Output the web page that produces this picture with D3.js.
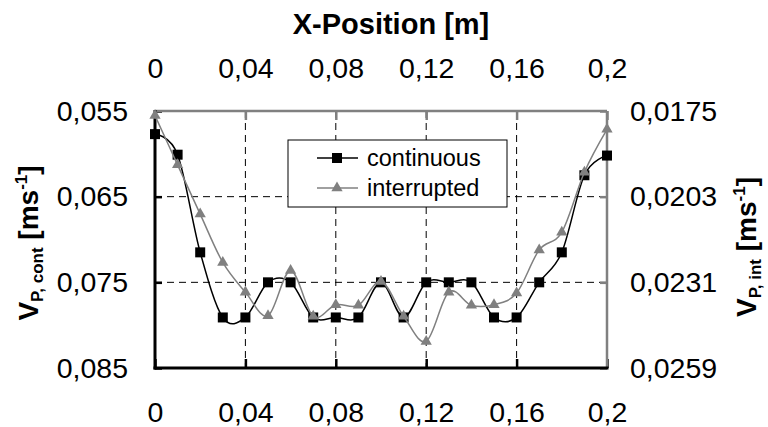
<!DOCTYPE html>
<html>
<head>
<meta charset="utf-8">
<script src="https://cdn.jsdelivr.net/npm/d3@7"></script>
<style>
  body { margin: 0; background: #fff; }
  svg { font-family: "Liberation Sans", Arial, sans-serif; }
</style>
</head>
<body>
<div id="chart"></div>
<script>
// x positions [m]
var xPos = [0, 0.01, 0.02, 0.03, 0.04, 0.05, 0.06, 0.07, 0.08, 0.09, 0.1,
            0.11, 0.12, 0.13, 0.14, 0.15, 0.16, 0.17, 0.18, 0.19, 0.2];

// continuous series (left axis)
var contVals = [0.0577, 0.0601, 0.0715, 0.0791, 0.0791, 0.075, 0.075, 0.0791, 0.0791, 0.0791, 0.075,
                0.0791, 0.075, 0.075, 0.075, 0.0791, 0.0791, 0.075, 0.0715, 0.0625, 0.0602];

// interrupted series (right axis)
var intVals = [0.01765, 0.01926, 0.02087, 0.02245, 0.02342, 0.02419, 0.02271, 0.02421, 0.02383, 0.02385, 0.02307,
               0.02421, 0.02503, 0.02342, 0.02385, 0.02383, 0.02345, 0.02204, 0.02146, 0.0195, 0.0181];

var xTicks = [0, 0.04, 0.08, 0.12, 0.16, 0.2];
var xTickLabels = ["0", "0,04", "0,08", "0,12", "0,16", "0,2"];
var leftTicks = [0.055, 0.065, 0.075, 0.085];
var leftTickLabels = ["0,055", "0,065", "0,075", "0,085"];
var rightTicks = [0.0175, 0.0203, 0.0231, 0.0259];
var rightTickLabels = ["0,0175", "0,0203", "0,0231", "0,0259"];

var width = 768, height = 427;
var plot = {left: 155, right: 607, top: 111, bottom: 368};
var gray = "#808080";

var svg = d3.select("#chart").append("svg")
    .attr("width", width)
    .attr("height", height);

svg.append("rect").attr("width", width).attr("height", height).attr("fill", "#fff");

var x = d3.scaleLinear().domain([0, 0.2]).range([plot.left, plot.right]);
var yL = d3.scaleLinear().domain([0.055, 0.085]).range([plot.top, plot.bottom]);
var yR = d3.scaleLinear().domain([0.0175, 0.0259]).range([plot.top, plot.bottom]);

// grid lines (dashed)
var grid = svg.append("g").attr("stroke", "#000").attr("stroke-width", 1).attr("stroke-dasharray", "7,5");
grid.selectAll(".vg").data(xTicks.slice(1, -1)).enter().append("line")
    .attr("x1", function(d) { return x(d); }).attr("x2", function(d) { return x(d); })
    .attr("y1", plot.top).attr("y2", plot.bottom);
grid.selectAll(".hg").data(leftTicks.slice(1, -1)).enter().append("line")
    .attr("x1", plot.left).attr("x2", plot.right)
    .attr("y1", function(d) { return yL(d); }).attr("y2", function(d) { return yL(d); });

function fmt(labels, ticks) {
    return function(d) { return labels[ticks.indexOf(d)]; };
}

// axes
var axTop = svg.append("g").attr("transform", "translate(0," + plot.top + ")")
    .call(d3.axisTop(x).tickValues(xTicks).tickFormat(fmt(xTickLabels, xTicks))
        .tickSizeInner(-9).tickSizeOuter(0).tickPadding(33));
var axBottom = svg.append("g").attr("transform", "translate(0," + plot.bottom + ")")
    .call(d3.axisBottom(x).tickValues(xTicks).tickFormat(fmt(xTickLabels, xTicks))
        .tickSizeInner(-9).tickSizeOuter(0).tickPadding(34));
var axLeft = svg.append("g").attr("transform", "translate(" + plot.left + ",0)")
    .call(d3.axisLeft(yL).tickValues(leftTicks).tickFormat(fmt(leftTickLabels, leftTicks))
        .tickSizeInner(-7).tickSizeOuter(0).tickPadding(27));
var axRight = svg.append("g").attr("transform", "translate(" + plot.right + ",0)")
    .call(d3.axisRight(yR).tickValues(rightTicks).tickFormat(fmt(rightTickLabels, rightTicks))
        .tickSizeInner(-7).tickSizeOuter(0).tickPadding(23));

[axTop, axBottom, axLeft, axRight].forEach(function(a) {
    a.select(".domain").remove();
    a.selectAll("text").attr("font-size", 28.5).attr("fill", "#000")
        .attr("font-family", "'Liberation Sans', Arial, sans-serif");
});
axTop.selectAll("line").attr("stroke", gray).attr("stroke-width", 2.5);
axRight.selectAll("line").attr("stroke", gray).attr("stroke-width", 2.5);
axBottom.selectAll("line").attr("stroke", "#000").attr("stroke-width", 2.5);
axLeft.selectAll("line").attr("stroke", "#000").attr("stroke-width", 2.5);

// frame
svg.append("line").attr("x1", plot.left).attr("x2", plot.right).attr("y1", plot.top).attr("y2", plot.top)
    .attr("stroke", gray).attr("stroke-width", 2.5);
svg.append("line").attr("x1", plot.right).attr("x2", plot.right).attr("y1", plot.top).attr("y2", plot.bottom)
    .attr("stroke", gray).attr("stroke-width", 2.5);
svg.append("line").attr("x1", plot.left).attr("x2", plot.left).attr("y1", plot.top - 1).attr("y2", plot.bottom + 1.5)
    .attr("stroke", "#000").attr("stroke-width", 3);
svg.append("line").attr("x1", plot.left - 1.5).attr("x2", plot.right + 1.5).attr("y1", plot.bottom).attr("y2", plot.bottom)
    .attr("stroke", "#000").attr("stroke-width", 3);

// series
var contData = xPos.map(function(d, i) { return {x: d, y: contVals[i]}; });
var intData = xPos.map(function(d, i) { return {x: d, y: intVals[i]}; });

var lineL = d3.line().curve(d3.curveCardinal.tension(0))
    .x(function(d) { return x(d.x); }).y(function(d) { return yL(d.y); });
var lineR = d3.line().curve(d3.curveCardinal.tension(0))
    .x(function(d) { return x(d.x); }).y(function(d) { return yR(d.y); });

var tri = d3.symbol().type(d3.symbolTriangle).size(55);

svg.append("path").datum(contData).attr("d", lineL)
    .attr("fill", "none").attr("stroke", "#000").attr("stroke-width", 1.5);
svg.selectAll(".sq").data(contData).enter().append("rect")
    .attr("x", function(d) { return x(d.x) - 5; })
    .attr("y", function(d) { return yL(d.y) - 5; })
    .attr("width", 10).attr("height", 10).attr("fill", "#000");

svg.append("path").datum(intData).attr("d", lineR)
    .attr("fill", "none").attr("stroke", gray).attr("stroke-width", 1.5);
svg.selectAll(".tr").data(intData).enter().append("path")
    .attr("d", tri)
    .attr("transform", function(d) { return "translate(" + x(d.x) + "," + yR(d.y) + ")"; })
    .attr("fill", gray);

// legend
var leg = svg.append("g");
leg.append("rect").attr("x", 288).attr("y", 140).attr("width", 219).attr("height", 67)
    .attr("fill", "#fff").attr("stroke", "#000").attr("stroke-width", 1);
leg.append("line").attr("x1", 317).attr("x2", 358).attr("y1", 158).attr("y2", 158)
    .attr("stroke", "#000").attr("stroke-width", 1.5);
leg.append("rect").attr("x", 332).attr("y", 153).attr("width", 10).attr("height", 10).attr("fill", "#000");
leg.append("text").attr("x", 367).attr("y", 166).attr("font-size", 23.5).text("continuous");
leg.append("line").attr("x1", 317).attr("x2", 358).attr("y1", 188).attr("y2", 188)
    .attr("stroke", gray).attr("stroke-width", 1.5);
leg.append("path").attr("d", tri).attr("transform", "translate(337,188)").attr("fill", gray);
leg.append("text").attr("x", 367).attr("y", 196).attr("font-size", 23.5).text("interrupted");

// titles
svg.append("text").attr("x", 391).attr("y", 34).attr("text-anchor", "middle")
    .attr("font-size", 29).attr("font-weight", "bold").text("X-Position [m]");

function yTitle(tx, ty, sub) {
    var t = svg.append("text")
        .attr("transform", "translate(" + tx + "," + ty + ") rotate(-90)")
        .attr("text-anchor", "middle").attr("font-weight", "bold").attr("font-size", 28);
    t.append("tspan").text("V");
    t.append("tspan").attr("font-size", 17).attr("dy", 5).text(sub);
    t.append("tspan").attr("dy", -5).text(" [ms");
    t.append("tspan").attr("font-size", 17).attr("dy", -11).text("-1");
    t.append("tspan").attr("dy", 11).text("]");
}
yTitle(38, 243, "P, cont");
yTitle(756, 247, "P, int");
</script>
</body>
</html>
